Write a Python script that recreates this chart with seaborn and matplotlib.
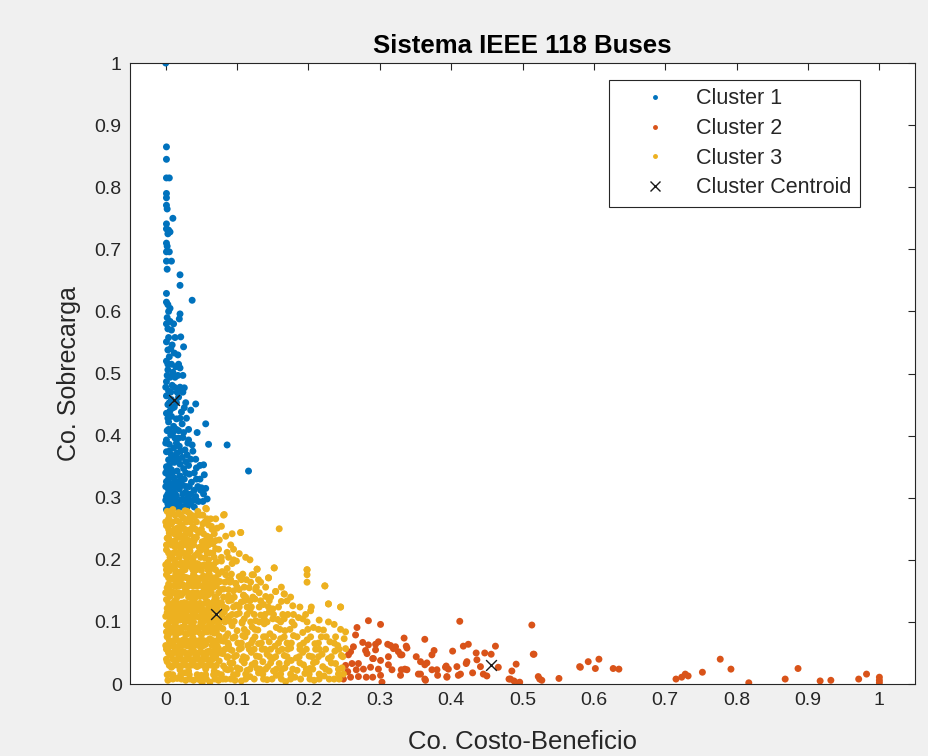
import matplotlib
matplotlib.use("Agg")
import matplotlib.pyplot as plt
import seaborn as sns
import pandas as pd
from matplotlib.lines import Line2D

# ---------------- data ----------------
cluster_names = ["Cluster 1", "Cluster 2", "Cluster 3"]
cluster_colors = ["#0072BD", "#D95319", "#EDB120"]

c1_points = [
    (0.000, 1.000), (0.001, 0.865), (0.001, 0.845), (0.001, 0.815), (0.005, 0.815),
    (0.001, 0.790), (0.001, 0.783), (0.001, 0.771), (0.002, 0.765), (0.010, 0.750),
    (0.001, 0.741), (0.001, 0.733), (0.004, 0.731), (0.006, 0.728), (0.003, 0.725),
    (0.001, 0.710), (0.002, 0.705), (0.001, 0.696), (0.005, 0.696), (0.001, 0.681),
    (0.008, 0.681), (0.020, 0.659), (0.002, 0.668), (0.020, 0.642), (0.001, 0.629),
    (0.037, 0.618), (0.001, 0.615), (0.003, 0.611), (0.006, 0.605), (0.004, 0.600),
    (0.020, 0.596), (0.019, 0.588), (0.002, 0.590), (0.006, 0.584), (0.003, 0.572),
    (0.008, 0.570), (0.021, 0.559), (0.001, 0.551), (0.009, 0.546), (0.025, 0.543),
    (0.003, 0.538), (0.012, 0.533), (0.005, 0.527), (0.017, 0.530), (0.001, 0.520),
    (0.008, 0.515), (0.014, 0.511), (0.003, 0.506), (0.010, 0.502), (0.020, 0.509),
    (0.006, 0.494), (0.013, 0.494), (0.001, 0.487), (0.026, 0.477), (0.009, 0.481),
    (0.004, 0.472), (0.016, 0.470), (0.001, 0.464), (0.008, 0.458), (0.018, 0.462),
    (0.042, 0.451), (0.035, 0.441), (0.003, 0.450), (0.012, 0.446), (0.022, 0.438),
    (0.001, 0.436), (0.008, 0.431), (0.015, 0.427), (0.023, 0.419), (0.056, 0.419),
    (0.004, 0.422), (0.011, 0.415), (0.002, 0.408), (0.018, 0.408), (0.007, 0.401),
    (0.013, 0.396), (0.032, 0.393), (0.001, 0.393), (0.024, 0.397), (0.037, 0.385),
    (0.060, 0.386), (0.086, 0.385), (0.005, 0.386), (0.011, 0.380), (0.019, 0.383),
    (0.027, 0.377), (0.001, 0.374), (0.008, 0.369), (0.016, 0.372), (0.023, 0.365),
    (0.030, 0.369), (0.004, 0.361), (0.012, 0.357), (0.020, 0.354), (0.028, 0.358),
    (0.001, 0.350), (0.008, 0.345), (0.016, 0.343), (0.025, 0.347), (0.043, 0.348),
    (0.053, 0.353), (0.116, 0.343), (0.004, 0.336), (0.012, 0.332), (0.020, 0.335),
    (0.033, 0.338), (0.054, 0.337), (0.001, 0.326), (0.008, 0.322), (0.016, 0.325),
    (0.024, 0.320), (0.036, 0.325), (0.043, 0.330), (0.004, 0.313), (0.011, 0.310),
    (0.019, 0.314), (0.028, 0.309), (0.040, 0.312), (0.050, 0.316), (0.001, 0.302),
    (0.008, 0.298), (0.015, 0.303), (0.022, 0.297), (0.031, 0.300), (0.042, 0.302),
    (0.058, 0.298), (0.003, 0.290), (0.011, 0.287), (0.019, 0.292), (0.026, 0.286),
    (0.035, 0.290), (0.001, 0.281), (0.008, 0.282), (0.016, 0.284), (0.033, 0.318),
    (0.049, 0.312), (0.056, 0.315), (0.042, 0.296), (0.006, 0.305), (0.013, 0.318),
    (0.002, 0.345), (0.018, 0.396), (0.006, 0.440), (0.014, 0.365), (0.021, 0.327),
]

# denser part of cluster 1: rows (y of the row, x positions in the row)
c1_core_y = [0.580, 0.558, 0.515, 0.497, 0.478, 0.453, 0.428, 0.405, 0.388, 0.362,
             0.352, 0.340, 0.318, 0.306, 0.294, 0.285,
             0.540, 0.470, 0.445, 0.410, 0.375, 0.330, 0.296]
c1_core_x = [
    [0.001, 0.011], [0.004, 0.013], [0.003, 0.018], [0.002, 0.017, 0.024],
    [0.000, 0.012, 0.020], [0.005, 0.015, 0.028], [0.003, 0.020, 0.029],
    [0.010, 0.025, 0.044], [0.000, 0.015, 0.031], [0.007, 0.018, 0.035, 0.042],
    [0.005, 0.032, 0.048], [0.000, 0.009, 0.028, 0.040],
    [0.000, 0.006, 0.017, 0.029, 0.045], [0.003, 0.013, 0.024, 0.035, 0.053],
    [0.006, 0.016, 0.030, 0.046, 0.052], [0.004, 0.013, 0.022, 0.030, 0.040],
    [0.007], [0.007, 0.024], [0.010, 0.026], [0.004, 0.015, 0.032],
    [0.005, 0.021, 0.038], [0.004, 0.012, 0.026, 0.048], [0.000, 0.010, 0.025, 0.038],
]

c2_points = [
    (0.284, 0.102), (0.301, 0.096), (0.268, 0.091), (0.266, 0.079), (0.276, 0.067),
    (0.298, 0.068), (0.311, 0.064), (0.315, 0.062), (0.322, 0.060), (0.334, 0.074),
    (0.337, 0.061), (0.363, 0.072), (0.412, 0.101), (0.417, 0.061), (0.424, 0.064),
    (0.402, 0.053), (0.376, 0.054), (0.435, 0.050), (0.447, 0.050), (0.462, 0.061),
    (0.456, 0.048), (0.513, 0.095), (0.515, 0.048), (0.491, 0.032), (0.485, 0.021),
    (0.483, 0.008), (0.496, 0.003), (0.522, 0.012), (0.524, 0.008), (0.551, 0.009),
    (0.581, 0.027), (0.592, 0.036), (0.607, 0.040), (0.602, 0.025), (0.627, 0.025),
    (0.635, 0.024), (0.466, 0.027), (0.450, 0.013), (0.436, 0.039), (0.422, 0.036),
    (0.410, 0.014), (0.394, 0.012), (0.392, 0.027), (0.381, 0.014), (0.373, 0.023),
    (0.363, 0.008), (0.357, 0.036), (0.363, 0.031), (0.351, 0.044), (0.354, 0.016),
    (0.335, 0.024), (0.329, 0.014), (0.329, 0.047), (0.319, 0.057), (0.312, 0.044),
    (0.312, 0.031), (0.301, 0.038), (0.298, 0.024), (0.301, 0.014), (0.303, 0.003),
    (0.290, 0.041), (0.287, 0.027), (0.281, 0.011), (0.277, 0.024), (0.280, 0.054),
    (0.282, 0.049), (0.270, 0.033), (0.267, 0.023), (0.259, 0.011), (0.256, 0.047),
    (0.259, 0.052), (0.261, 0.033), (0.270, 0.012), (0.294, 0.055), (0.294, 0.064),
    (0.284, 0.063), (0.338, 0.023), (0.396, 0.024), (0.249, 0.008), (0.290, 0.011),
    (0.291, 0.041), (0.317, 0.023), (0.326, 0.052), (0.331, 0.047), (0.330, 0.023),
    (0.338, 0.058), (0.357, 0.016), (0.364, 0.006), (0.366, 0.034), (0.373, 0.047),
    (0.380, 0.023), (0.393, 0.029), (0.408, 0.028), (0.421, 0.033), (0.430, 0.018),
    (0.441, 0.028), (0.445, 0.016), (0.413, 0.016), (0.394, 0.011), (0.481, 0.008),
    (0.488, 0.005), (0.495, 0.002), (0.516, 0.048), (0.527, 0.006), (0.580, 0.028),
    (0.715, 0.008), (0.723, 0.011), (0.728, 0.016), (0.732, 0.013), (0.752, 0.019),
    (0.777, 0.040), (0.792, 0.024), (0.817, 0.002), (0.868, 0.008), (0.886, 0.025),
    (0.917, 0.005), (0.932, 0.006), (0.971, 0.008), (0.982, 0.016), (1.000, 0.011),
    (1.000, 0.006), (1.000, 0.002), (0.252, 0.030), (0.255, 0.020), (0.263, 0.060),
]

c3_points = [
    (0.002, 0.278), (0.010, 0.281), (0.018, 0.276), (0.027, 0.279), (0.033, 0.275),
    (0.040, 0.269), (0.048, 0.272), (0.056, 0.283), (0.063, 0.266), (0.081, 0.272),
    (0.004, 0.266), (0.015, 0.263), (0.024, 0.268),
    (0.001, 0.255), (0.008, 0.258), (0.016, 0.251), (0.023, 0.256), (0.031, 0.247),
    (0.038, 0.253), (0.046, 0.244), (0.052, 0.258), (0.060, 0.256), (0.072, 0.251),
    (0.084, 0.238), (0.105, 0.244), (0.159, 0.250), (0.005, 0.243), (0.012, 0.242),
    (0.027, 0.240),
    (0.002, 0.235), (0.009, 0.229), (0.017, 0.237), (0.022, 0.226), (0.030, 0.232),
    (0.036, 0.223), (0.043, 0.236), (0.051, 0.229), (0.058, 0.238), (0.066, 0.226),
    (0.075, 0.232), (0.091, 0.224), (0.013, 0.221), (0.047, 0.220),
    (0.001, 0.216), (0.007, 0.208), (0.015, 0.212), (0.021, 0.219), (0.028, 0.205),
    (0.034, 0.214), (0.041, 0.207), (0.049, 0.215), (0.055, 0.203), (0.062, 0.211),
    (0.070, 0.218), (0.078, 0.204), (0.103, 0.210), (0.086, 0.212), (0.011, 0.201),
    (0.038, 0.200),
    (0.003, 0.196), (0.009, 0.188), (0.016, 0.193), (0.024, 0.185), (0.029, 0.197),
    (0.035, 0.189), (0.044, 0.194), (0.050, 0.183), (0.057, 0.191), (0.064, 0.186),
    (0.071, 0.197), (0.086, 0.186), (0.093, 0.194), (0.128, 0.185), (0.152, 0.187),
    (0.198, 0.184), (0.079, 0.181), (0.019, 0.180), (0.005, 0.182),
    (0.001, 0.176), (0.008, 0.169), (0.014, 0.178), (0.020, 0.165), (0.027, 0.172),
    (0.033, 0.163), (0.039, 0.177), (0.046, 0.167), (0.053, 0.174), (0.061, 0.162),
    (0.068, 0.171), (0.076, 0.165), (0.084, 0.176), (0.098, 0.162), (0.103, 0.173),
    (0.121, 0.176), (0.144, 0.171), (0.198, 0.176), (0.198, 0.164), (0.113, 0.168),
    (0.091, 0.168), (0.004, 0.161), (0.024, 0.160),
    (0.002, 0.155), (0.009, 0.148), (0.015, 0.157), (0.022, 0.143), (0.028, 0.152),
    (0.035, 0.145), (0.041, 0.158), (0.048, 0.141), (0.054, 0.151), (0.060, 0.144),
    (0.067, 0.156), (0.074, 0.147), (0.081, 0.153), (0.088, 0.142), (0.095, 0.150),
    (0.109, 0.143), (0.117, 0.155), (0.154, 0.149), (0.166, 0.145), (0.223, 0.158),
    (0.131, 0.147), (0.140, 0.141), (0.006, 0.141), (0.032, 0.140),
    (0.001, 0.136), (0.007, 0.127), (0.013, 0.134), (0.019, 0.122), (0.026, 0.131),
    (0.032, 0.124), (0.038, 0.137), (0.045, 0.128), (0.051, 0.121), (0.058, 0.133),
    (0.064, 0.125), (0.078, 0.131), (0.085, 0.122), (0.092, 0.135), (0.099, 0.127),
    (0.106, 0.132), (0.114, 0.124), (0.125, 0.137), (0.137, 0.128), (0.150, 0.121),
    (0.162, 0.133), (0.178, 0.126), (0.228, 0.129), (0.245, 0.124), (0.004, 0.121),
    (0.071, 0.138),
    (0.002, 0.115), (0.008, 0.106), (0.014, 0.118), (0.020, 0.103), (0.027, 0.112),
    (0.033, 0.101), (0.039, 0.117), (0.046, 0.108), (0.052, 0.114), (0.059, 0.102),
    (0.066, 0.119), (0.076, 0.104), (0.082, 0.116), (0.089, 0.109), (0.096, 0.101),
    (0.103, 0.114), (0.110, 0.105), (0.118, 0.118), (0.126, 0.102), (0.133, 0.111),
    (0.145, 0.116), (0.157, 0.104), (0.171, 0.112), (0.186, 0.107), (0.203, 0.118),
    (0.215, 0.103), (0.005, 0.100), (0.024, 0.119),
    (0.001, 0.095), (0.007, 0.087), (0.013, 0.098), (0.019, 0.083), (0.025, 0.092),
    (0.031, 0.081), (0.037, 0.096), (0.043, 0.088), (0.049, 0.099), (0.055, 0.084),
    (0.061, 0.093), (0.068, 0.082), (0.074, 0.097), (0.080, 0.089), (0.087, 0.081),
    (0.093, 0.094), (0.100, 0.086), (0.107, 0.098), (0.114, 0.083), (0.121, 0.092),
    (0.129, 0.087), (0.138, 0.097), (0.146, 0.081), (0.155, 0.091), (0.167, 0.086),
    (0.180, 0.095), (0.192, 0.083), (0.207, 0.091), (0.221, 0.087), (0.236, 0.096),
    (0.252, 0.084), (0.004, 0.080), (0.028, 0.080),
    (0.002, 0.076), (0.008, 0.067), (0.014, 0.078), (0.020, 0.063), (0.026, 0.072),
    (0.032, 0.061), (0.038, 0.075), (0.044, 0.068), (0.050, 0.079), (0.056, 0.064),
    (0.062, 0.073), (0.069, 0.061), (0.075, 0.077), (0.081, 0.069), (0.088, 0.063),
    (0.094, 0.074), (0.101, 0.066), (0.108, 0.078), (0.115, 0.062), (0.122, 0.071),
    (0.130, 0.065), (0.137, 0.076), (0.145, 0.068), (0.153, 0.061), (0.161, 0.073),
    (0.170, 0.066), (0.179, 0.078), (0.188, 0.062), (0.198, 0.071), (0.209, 0.065),
    (0.218, 0.076), (0.230, 0.068), (0.241, 0.062), (0.250, 0.073), (0.005, 0.060),
    (0.017, 0.060),
    (0.001, 0.056), (0.007, 0.047), (0.013, 0.058), (0.019, 0.043), (0.025, 0.052),
    (0.031, 0.041), (0.037, 0.055), (0.043, 0.048), (0.049, 0.059), (0.055, 0.044),
    (0.061, 0.053), (0.067, 0.041), (0.074, 0.057), (0.080, 0.049), (0.086, 0.043),
    (0.093, 0.054), (0.099, 0.046), (0.106, 0.058), (0.113, 0.042), (0.120, 0.051),
    (0.127, 0.045), (0.135, 0.056), (0.142, 0.048), (0.150, 0.041), (0.158, 0.053),
    (0.166, 0.046), (0.175, 0.058), (0.183, 0.042), (0.192, 0.051), (0.201, 0.045),
    (0.210, 0.056), (0.219, 0.048), (0.228, 0.041), (0.237, 0.053), (0.246, 0.046),
    (0.252, 0.057),
    (0.002, 0.036), (0.008, 0.027), (0.014, 0.038), (0.020, 0.023), (0.026, 0.032),
    (0.032, 0.021), (0.038, 0.035), (0.044, 0.028), (0.050, 0.039), (0.056, 0.024),
    (0.062, 0.033), (0.068, 0.021), (0.075, 0.037), (0.081, 0.029), (0.087, 0.023),
    (0.094, 0.034), (0.100, 0.026), (0.107, 0.038), (0.114, 0.022), (0.121, 0.031),
    (0.128, 0.025), (0.136, 0.036), (0.143, 0.028), (0.151, 0.021), (0.159, 0.033),
    (0.167, 0.026), (0.176, 0.038), (0.184, 0.022), (0.193, 0.031), (0.202, 0.025),
    (0.211, 0.036), (0.220, 0.028), (0.229, 0.021), (0.238, 0.033), (0.247, 0.026),
    (0.005, 0.016), (0.016, 0.009), (0.027, 0.018), (0.039, 0.006), (0.050, 0.014),
    (0.062, 0.003), (0.073, 0.017), (0.084, 0.008), (0.095, 0.015), (0.106, 0.005),
    (0.118, 0.012), (0.130, 0.018), (0.142, 0.007), (0.155, 0.014), (0.168, 0.004),
    (0.181, 0.011), (0.195, 0.017), (0.208, 0.006), (0.222, 0.013), (0.236, 0.008),
    (0.249, 0.016), (0.051, 0.002),
    (0.082, 0.273), (0.057, 0.282), (0.105, 0.244), (0.198, 0.184), (0.152, 0.187),
    (0.128, 0.185), (0.223, 0.158), (0.228, 0.129), (0.245, 0.124), (0.166, 0.145),
    (0.154, 0.149), (0.144, 0.171), (0.123, 0.176), (0.109, 0.143), (0.098, 0.162),
]

# denser core of cluster 3: rows (y of the row, x positions in the row)
c3_core_y = [0.272, 0.261, 0.249, 0.231, 0.224, 0.211, 0.192, 0.184, 0.171, 0.158,
             0.147, 0.130, 0.118, 0.109, 0.091, 0.084, 0.070, 0.062, 0.050, 0.040,
             0.030, 0.015,
             0.278, 0.266, 0.254, 0.242, 0.217, 0.204, 0.198, 0.177, 0.164, 0.152,
             0.140, 0.124, 0.112, 0.100, 0.076, 0.056, 0.044, 0.024, 0.008, 0.190,
             0.088, 0.066, 0.034, 0.016, 0.105, 0.134, 0.156, 0.200, 0.168,
             0.236, 0.195, 0.122, 0.052, 0.006]
c3_core_x = [
    [0.005, 0.013, 0.021, 0.036, 0.044, 0.052],
    [0.000, 0.009, 0.019, 0.029, 0.035, 0.043, 0.055],
    [0.004, 0.012, 0.020, 0.027, 0.035, 0.042, 0.050, 0.065],
    [0.005, 0.013, 0.026, 0.033, 0.040, 0.055, 0.062, 0.070],
    [0.001, 0.008, 0.018, 0.028, 0.039, 0.053, 0.060],
    [0.004, 0.011, 0.018, 0.025, 0.031, 0.045, 0.058, 0.066],
    [0.000, 0.012, 0.020, 0.032, 0.040, 0.047, 0.054, 0.061, 0.067],
    [0.001, 0.013, 0.027, 0.038, 0.043, 0.059, 0.070],
    [0.004, 0.011, 0.017, 0.023, 0.030, 0.036, 0.043, 0.050, 0.057, 0.064],
    [0.006, 0.012, 0.019, 0.025, 0.032, 0.038, 0.045, 0.051, 0.058, 0.071],
    [0.000, 0.012, 0.018, 0.025, 0.031, 0.038, 0.044, 0.051, 0.057, 0.064],
    [0.004, 0.010, 0.016, 0.022, 0.029, 0.035, 0.042, 0.048, 0.055, 0.061, 0.068, 0.075],
    [0.005, 0.011, 0.017, 0.030, 0.036, 0.043, 0.049, 0.056, 0.062, 0.072],
    [0.000, 0.011, 0.017, 0.024, 0.030, 0.036, 0.042, 0.049, 0.055, 0.062, 0.069],
    [0.004, 0.010, 0.016, 0.022, 0.028, 0.034, 0.040, 0.046, 0.052, 0.058, 0.065, 0.071, 0.077],
    [0.001, 0.010, 0.016, 0.022, 0.034, 0.040, 0.046, 0.058, 0.064, 0.071],
    [0.005, 0.011, 0.017, 0.023, 0.029, 0.035, 0.041, 0.047, 0.053, 0.059, 0.066, 0.072, 0.078],
    [0.000, 0.011, 0.023, 0.029, 0.035, 0.041, 0.047, 0.053, 0.065, 0.072],
    [0.004, 0.010, 0.016, 0.022, 0.028, 0.034, 0.040, 0.046, 0.052, 0.058, 0.064, 0.071, 0.077],
    [0.001, 0.010, 0.016, 0.022, 0.028, 0.034, 0.040, 0.046, 0.052, 0.058, 0.064],
    [0.005, 0.011, 0.017, 0.023, 0.029, 0.035, 0.041, 0.047, 0.053, 0.059, 0.065, 0.071],
    [0.002, 0.010, 0.021, 0.033, 0.044, 0.056, 0.067, 0.078],
    [0.007, 0.030, 0.045],
    [0.032, 0.058, 0.070],
    [0.064, 0.078],
    [0.019, 0.034, 0.053, 0.068, 0.093],
    [0.033, 0.056, 0.074, 0.095],
    [0.006, 0.019, 0.034, 0.049, 0.068, 0.088, 0.112],
    [0.078, 0.099],
    [0.022, 0.061, 0.074, 0.092, 0.108],
    [0.014, 0.040, 0.055, 0.069, 0.083, 0.090, 0.119, 0.133],
    [0.004, 0.062, 0.077, 0.088, 0.103, 0.126],
    [0.016, 0.042, 0.055, 0.069, 0.081, 0.096, 0.112, 0.122, 0.147, 0.175],
    [0.026, 0.072, 0.081, 0.095, 0.103, 0.120, 0.131, 0.144, 0.158, 0.188, 0.204],
    [0.008, 0.021, 0.060, 0.079, 0.093, 0.099, 0.114, 0.124, 0.139, 0.151, 0.164, 0.179, 0.196],
    [0.014, 0.027, 0.039, 0.053, 0.066, 0.083, 0.091, 0.107, 0.119, 0.131, 0.142, 0.161,
     0.177, 0.198, 0.228],
    [0.084, 0.097, 0.111, 0.125, 0.140, 0.151, 0.166, 0.184, 0.203, 0.225, 0.238],
    [0.083, 0.090, 0.103, 0.117, 0.124, 0.139, 0.147, 0.163, 0.171, 0.188, 0.197, 0.215,
     0.224, 0.243],
    [0.070, 0.087, 0.096, 0.109, 0.131, 0.146, 0.154, 0.170, 0.187, 0.205, 0.214, 0.232, 0.248],
    [0.084, 0.091, 0.104, 0.118, 0.132, 0.140, 0.155, 0.163, 0.178, 0.197, 0.206, 0.224, 0.242],
    [0.010, 0.022, 0.034, 0.045, 0.057, 0.069, 0.080, 0.091, 0.112, 0.124, 0.137, 0.149,
     0.162, 0.175, 0.189, 0.202, 0.215, 0.229, 0.243],
    [0.006, 0.026, 0.042, 0.052],
    [0.110, 0.125, 0.160, 0.174, 0.199, 0.214, 0.245],
    [0.087, 0.106, 0.120, 0.134, 0.158, 0.176, 0.193, 0.214, 0.236],
    [0.090, 0.110, 0.125, 0.147, 0.170, 0.188, 0.207, 0.232],
    [0.100, 0.112, 0.136, 0.161, 0.175, 0.201, 0.215, 0.242],
    [0.070, 0.085, 0.138, 0.150, 0.166, 0.192],
    [0.068, 0.088, 0.110, 0.118, 0.133, 0.145, 0.170],
    [0.100, 0.110, 0.127, 0.140, 0.162],
    [0.060, 0.095, 0.118],
    [0.071, 0.088, 0.106, 0.130],
    [0.004, 0.020, 0.040, 0.062],
    [0.003, 0.014, 0.022, 0.037],
    [0.002, 0.014, 0.024, 0.040, 0.050, 0.060],
    [0.004, 0.022, 0.040, 0.058, 0.068],
    [0.003, 0.028, 0.049, 0.074, 0.097],
]

centroid_x = [0.012, 0.456, 0.070]
centroid_y = [0.458, 0.031, 0.113]

x_ticks = [0, 0.1, 0.2, 0.3, 0.4, 0.5, 0.6, 0.7, 0.8, 0.9, 1]
y_ticks = [0, 0.1, 0.2, 0.3, 0.4, 0.5, 0.6, 0.7, 0.8, 0.9, 1]

# ---------------- build tables ----------------
def rows_to_points(ys, xs):
    return [(x, y) for y, row in zip(ys, xs) for x in row]

c1_all = c1_points + rows_to_points(c1_core_y, c1_core_x)
c3_all = c3_points + rows_to_points(c3_core_y, c3_core_x)

frames = []
for name, pts in zip(cluster_names, [c1_all, c2_points, c3_all]):
    df = pd.DataFrame(pts, columns=["x", "y"])
    df["cluster"] = name
    frames.append(df)
data = pd.concat(frames, ignore_index=True)
cent = pd.DataFrame({"x": centroid_x, "y": centroid_y})

# ---------------- plot ----------------
sns.set_theme(style="white")
plt.rcParams["font.family"] = ["Liberation Sans", "DejaVu Sans"]

fig = plt.figure(figsize=(9.29, 7.56), dpi=100, facecolor="#f0f0f0")
ax = fig.add_axes([0.140, 0.0952, 0.845, 0.8214])
ax.set_facecolor("white")

sns.scatterplot(data=data, x="x", y="y", hue="cluster", hue_order=cluster_names,
                palette=cluster_colors, s=25, linewidth=0, ax=ax, legend=False)
sns.scatterplot(data=cent, x="x", y="y", marker="x", color="#1a1a1a", s=60,
                linewidth=1.0, ax=ax, legend=False)

ax.set_xlim(-0.05, 1.05)
ax.set_ylim(0, 1)
ax.set_xticks(x_ticks)
ax.set_yticks(y_ticks)
ax.set_xticklabels([f"{v:g}" for v in x_ticks])
ax.set_yticklabels([f"{v:g}" for v in y_ticks])
ax.tick_params(direction="in", length=5, width=0.8, colors="#262626",
               labelsize=14, top=True, right=True, labeltop=False, labelright=False,
               pad=6)
for sp in ax.spines.values():
    sp.set_color("#262626")
    sp.set_linewidth(0.8)

ax.set_title("Sistema IEEE 118 Buses", fontsize=18.5, fontweight="bold", pad=7,
             color="black")
ax.set_xlabel("Co. Costo-Beneficio", fontsize=18.5, color="#262626", labelpad=15)
ax.set_ylabel("Co. Sobrecarga", fontsize=18, color="#262626", labelpad=10)

handles = [Line2D([], [], linestyle="none", marker=".", markersize=5,
                  color=c) for c in cluster_colors]
handles.append(Line2D([], [], linestyle="none", marker="x", markersize=7,
                      color="#1a1a1a", markeredgewidth=1.0))
labels = cluster_names + ["Cluster Centroid"]
leg = ax.legend(handles, labels, loc="upper right", bbox_to_anchor=(0.930, 0.973),
                fontsize=15.5, frameon=True, fancybox=False, framealpha=1,
                edgecolor="#262626", borderpad=0.4, labelspacing=0.4,
                handletextpad=0.2, handlelength=3.45, borderaxespad=0)
leg.get_frame().set_linewidth(0.8)

fig.savefig("out.png", dpi=100, facecolor=fig.get_facecolor())
